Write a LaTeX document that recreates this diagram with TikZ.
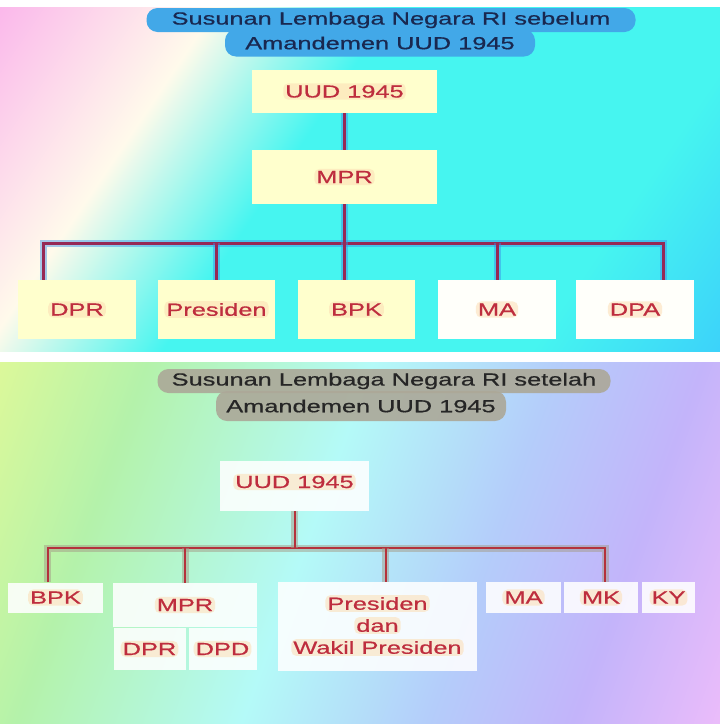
\documentclass[tikz,border=0pt]{standalone}
\usepackage{fontspec}
\setmainfont[FakeStretch=1.45, FakeBold=0.6]{Liberation Sans}
\definecolor{txtred}{RGB}{190,45,62}
\definecolor{boxyellow}{RGB}{255,255,205}
\definecolor{glow}{RGB}{252,222,180}
\definecolor{lineA}{RGB}{150,40,85}
\definecolor{haloA}{RGB}{60,140,230}
\definecolor{lineB}{RGB}{180,50,60}
\definecolor{haloB}{RGB}{165,155,135}
\definecolor{bubA}{RGB}{66,168,232}
\definecolor{bubB}{RGB}{172,168,152}
\definecolor{navy}{RGB}{25,40,80}
\definecolor{toppink}{RGB}{250,175,235}
\definecolor{topcream}{RGB}{255,250,235}
\definecolor{topcyan}{RGB}{70,245,240}
\definecolor{topblue}{RGB}{60,210,250}
\definecolor{botyellow}{RGB}{230,250,150}
\definecolor{botgreen}{RGB}{180,242,170}
\definecolor{botcyan}{RGB}{180,250,248}
\definecolor{botblue}{RGB}{180,205,250}
\definecolor{botlav}{RGB}{195,180,250}
\definecolor{botpink}{RGB}{245,190,250}
\pgfdeclarehorizontalshading{topbg}{100bp}{color(0bp)=(toppink); color(13bp)=(toppink); color(31bp)=(topcream); color(44bp)=(topcyan); color(71bp)=(topcyan); color(85bp)=(topblue); color(100bp)=(topblue)}
\pgfdeclarehorizontalshading{botbg}{100bp}{color(0bp)=(botyellow); color(15bp)=(botyellow); color(29bp)=(botgreen); color(46bp)=(botcyan); color(60bp)=(botblue); color(71bp)=(botlav); color(85bp)=(botpink); color(100bp)=(botpink)}
\begin{document}
\begin{tikzpicture}[x=1pt, y=-1pt,
  every node/.style={font=\fontsize{17.5}{21.7}\selectfont, text=txtred, inner sep=0pt},
  box/.style={fill=boxyellow},
  wbox/.style={fill=white!98!yellow},
  gbox/.style={fill=white, fill opacity=0.88, text opacity=1},
  tag/.style={fill=glow, fill opacity=0.55, text opacity=1, rounded corners=5pt, inner sep=2pt},
  bubbleA/.style={fill=bubA, rounded corners=11pt, text=navy},
  bubbleB/.style={fill=bubB, fill opacity=0.9, text opacity=1, rounded corners=11pt, text=black!85},
  linkA/.style={draw=lineA, line width=3pt, preaction={draw=haloA, line width=7pt, opacity=0.45}},
  linkB/.style={draw=lineB, line width=2pt, preaction={draw=haloB, line width=7pt, opacity=0.5}}
]
  \useasboundingbox (0,0) rectangle (720,726);
  \fill[white] (0,0) rectangle (720,726);
  \shade[shading=topbg, shading angle=-34] (0,7) rectangle (720,351);
  \shade[shading=botbg, shading angle=-20] (0,362) rectangle (720,723);

  % sebelum amandemen
  \node[bubbleA, minimum width=310, minimum height=27] (titA2) at (380,43) {Amandemen UUD 1945};
  \node[bubbleA, minimum width=489, minimum height=24] (titA1) at (391,20) {Susunan Lembaga Negara RI sebelum};
  \node[box, minimum width=185, minimum height=43, label={[tag]center:UUD 1945}] (uudA) at (344.5,91.5) {};
  \node[box, minimum width=185, minimum height=54, label={[tag]center:MPR}] (mprA) at (344.5,177) {};
  \node[box, minimum width=118, minimum height=59, label={[tag]center:DPR}] (dprA) at (77,309.5) {};
  \node[box, minimum width=117, minimum height=59, label={[tag]center:Presiden}] (presA) at (216.5,309.5) {};
  \node[box, minimum width=117, minimum height=59, label={[tag]center:BPK}] (bpkA) at (356.5,309.5) {};
  \node[wbox, minimum width=118, minimum height=59, label={[tag]center:MA}] (maA) at (497,309.5) {};
  \node[wbox, minimum width=118, minimum height=59, label={[tag]center:DPA}] (dpaA) at (635,309.5) {};
  \coordinate (busA) at (344,243);
  \draw[linkA] ([xshift=26]dprA.north west) |- (busA) -| ([xshift=-31]dpaA.north east);
  \draw[linkA] (presA.north) -- (presA.north |- busA);
  \draw[linkA] (maA.north) -- (maA.north |- busA);
  \draw[linkA] (mprA) -- (mprA.south |- bpkA.north);
  \draw[linkA] (uudA) -- (mprA);

  % setelah amandemen
  \node[bubbleB, minimum width=290, minimum height=30] (titB2) at (361,406) {Amandemen UUD 1945};
  \node[bubbleB, minimum width=453, minimum height=24] (titB1) at (384,381) {Susunan Lembaga Negara RI setelah};
  \node[gbox, minimum width=149, minimum height=50, label={[tag, yshift=4]center:UUD 1945}] (uudB) at (294.5,486) {};
  \node[gbox, minimum width=95, minimum height=30, label={[tag]center:BPK}] (bpkB) at (55.5,597.5) {};
  \node[gbox, minimum width=144, minimum height=44, label={[tag]center:MPR}] (mprB) at (185,605) {};
  \node[gbox, minimum width=72, minimum height=42, label={[tag]center:DPR}] (dprB) at (149.5,649) {};
  \node[gbox, minimum width=68, minimum height=42, label={[tag]center:DPD}] (dpdB) at (222.5,649) {};
  \node[gbox, minimum width=199, minimum height=89,
    label={[tag, yshift=23]center:Presiden}, label={[tag, yshift=1]center:dan},
    label={[tag, yshift=-21]center:Wakil Presiden}] (presB) at (377.5,626.5) {};
  \node[gbox, minimum width=75, minimum height=31, label={[tag]center:MA}] (maB) at (523.5,597.5) {};
  \node[gbox, minimum width=74, minimum height=31, label={[tag]center:MK}] (mkB) at (601,597.5) {};
  \node[gbox, minimum width=53, minimum height=31, label={[tag]center:KY}] (kyB) at (668.5,597.5) {};
  \coordinate (busB) at (295,548);
  \draw[linkB] ([xshift=-8]bpkB.north) |- (busB) -| ([xshift=4]mkB.north);
  \draw[linkB] (mprB.north) -- (mprB.north |- busB);
  \draw[linkB] ([xshift=8]presB.north) -- ([xshift=8]presB.north |- busB);
  \draw[linkB] (uudB) -- (uudB.south |- busB);
\end{tikzpicture}
\end{document}
